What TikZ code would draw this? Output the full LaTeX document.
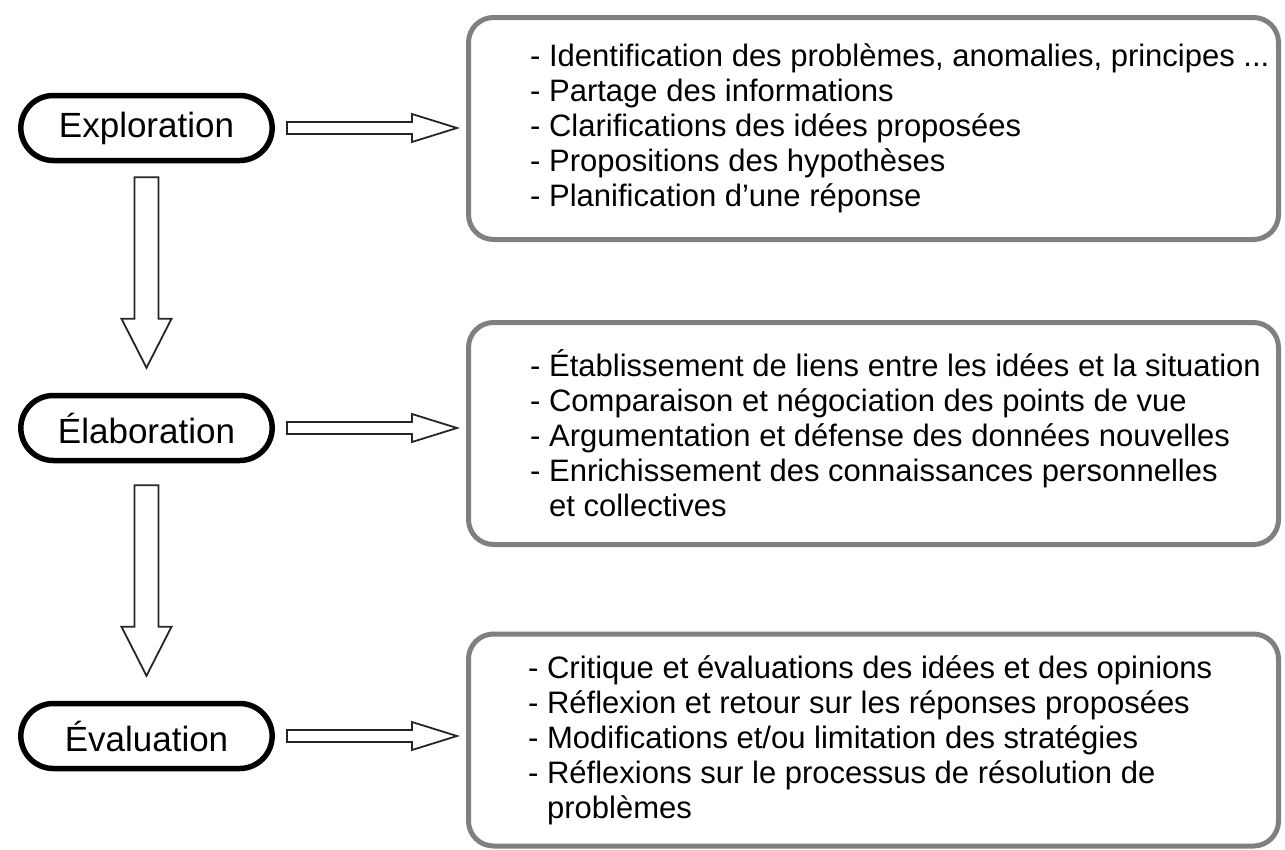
\documentclass[tikz,border=0pt]{standalone}
\usepackage{fontspec}
\setmainfont{Liberation Sans}
\usetikzlibrary{positioning,calc,shapes.misc}

% hollow block arrow: from, to, half shaft, half head, head length
\newcommand{\blockarrow}[5]{%
  \coordinate (h) at ($(#2)!#5!(#1)$);
  \draw[arrowline] ($(#1)!#3!90:(#2)$) -- ($(h)!#3!-90:(#1)$)
    -- ($(h)!#4!-90:(#1)$) -- (#2) -- ($(h)!#4!90:(#1)$)
    -- ($(h)!#3!90:(#1)$) -- ($(#1)!#3!-90:(#2)$) -- cycle;}

\begin{document}
\begin{tikzpicture}[x=1pt,y=-1pt,
  stage/.style={rounded rectangle, draw, line width=5.5pt,
    minimum width=258pt, minimum height=65pt,
    font=\fontsize{35}{40}\selectfont},
  itembox/.style={draw=gray, line width=5pt, rounded corners=25pt,
    minimum width=810pt},
  items/.style={align=left, inner sep=0pt,
    font=\fontsize{31}{35}\selectfont},
  arrowline/.style={draw=black!85, line width=1.8pt, fill=white,
    line join=miter}]
  \useasboundingbox (0,0) rectangle (1285,849);

  \node[stage] (ex)  at (146.5,128) {Exploration};
  \node[stage] (ela) at (146.5,428) {Élaboration};
  \node[stage] (ev)  at (146.5,736) {Évaluation};

  \node[itembox, minimum height=222pt] (b1) at (873.5,128.5) {};
  \node[itembox, minimum height=222pt] (b2) at (873.5,433.5) {};
  \node[itembox, minimum height=212pt] (b3) at (873.5,740) {};

  \node[items, right=64pt of b1.west] (t1) {%
    - Identification des problèmes, anomalies, principes ...\\
    - Partage des informations\\
    - Clarifications des idées proposées\\
    - Propositions des hypothèses\\
    - Planification d'une réponse};
  \node[items, right=64pt of b2.west] (t2) {%
    - Établissement de liens entre les idées et la situation\\
    - Comparaison et négociation des points de vue\\
    - Argumentation et défense des données nouvelles\\
    - Enrichissement des connaissances personnelles\\
    \phantom{- }et collectives};
  \node[items, right=62pt of b3.west] (t3) {%
    - Critique et évaluations des idées et des opinions\\
    - Réflexion et retour sur les réponses proposées\\
    - Modifications et/ou limitation des stratégies\\
    - Réflexions sur le processus de résolution de\\
    \phantom{- }problèmes};

  % stage -> details
  \foreach \s/\b in {ex/b1, ela/b2, ev/b3} {
    \coordinate (r\s) at ($(\s.east)+(12,0)$);
    \coordinate (e\s) at ($(r\s -| \b.west)+(-9,0)$);
    \blockarrow{r\s}{e\s}{6pt}{14pt}{45pt}
  }
  % stage -> next stage
  \foreach \s/\t/\g in {ex/ela/14, ela/ev/22} {
    \coordinate (d\s) at ($(\s.south)+(0,\g)$);
    \coordinate (u\s) at ($(\t.north)+(0,-25)$);
    \blockarrow{d\s}{u\s}{12pt}{25pt}{49pt}
  }
\end{tikzpicture}
\end{document}
